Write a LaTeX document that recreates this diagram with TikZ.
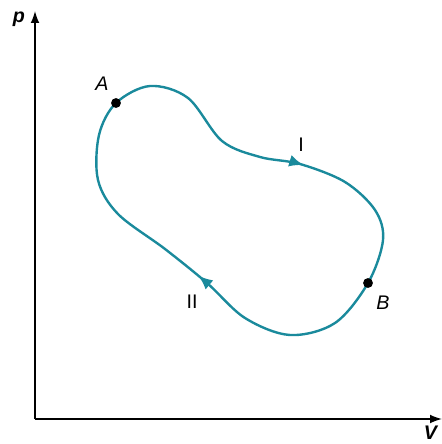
\documentclass[tikz,border=0pt]{standalone}
\usepackage{fontspec}
\setmainfont{Liberation Sans}
\usetikzlibrary{arrows.meta,decorations.markings}
\definecolor{cycleteal}{HTML}{1A8A9C}

\begin{document}
\begin{tikzpicture}[>=Latex, x=0.025cm, y=-0.025cm,
    lbl/.style={font=\fontsize{14}{16}\selectfont, inner sep=0pt},
    cyc/.style={cycleteal, line width=1.7pt},
    statept/.style={fill=black}]
  \useasboundingbox (0,0) rectangle (441,444);
  % ---------------- axes ----------------
  \coordinate (O) at (35,419);
  \coordinate (ptop) at (35,11);
  \coordinate (vend) at (442,419);
  \draw[-{Latex[length=3mm,width=2.2mm]}, line width=1.1pt] (O) -- (ptop);
  \draw[-{Latex[length=3mm,width=2.2mm]}, line width=1.1pt] (O) -- (vend);
  \node[lbl] (plbl) at (19,19) {\textbf{\textit{p}}};
  \node[lbl] (vlbl) at (431,433) {\textbf{\textit{V}}};

  % ---------------- the cycle ----------------
  \coordinate (A) at (116,103);
  \coordinate (B) at (368,283);
  \draw[cyc, postaction={decorate}, decoration={markings,
      mark=at position 0.222 with {\arrow{Latex[length=3.6mm,width=3mm]}},
      mark=at position 0.680 with {\arrow{Latex[length=3.6mm,width=3mm]}}}]
    plot[smooth cycle, tension=0.55] coordinates {(A) (150,86) (188,98)
      (222,141) (260,157) (300,164) (345,182) (375,210) (383,240) (B)
      (335,323) (290,335) (245,318) (207,283) (165,249) (118,214)
      (98,180) (99,135)};
  \fill[statept] (A) circle (3.5pt);
  \fill[statept] (B) circle (3.5pt);
  \node[lbl] (albl) at (102,84) {\textit{A}};
  \node[lbl] (blbl) at (383,303) {\textit{B}};
  \node[lbl] (onelbl) at (301,145) {I};
  \node[lbl] (twolbl) at (192,302) {II};
\end{tikzpicture}
\end{document}
